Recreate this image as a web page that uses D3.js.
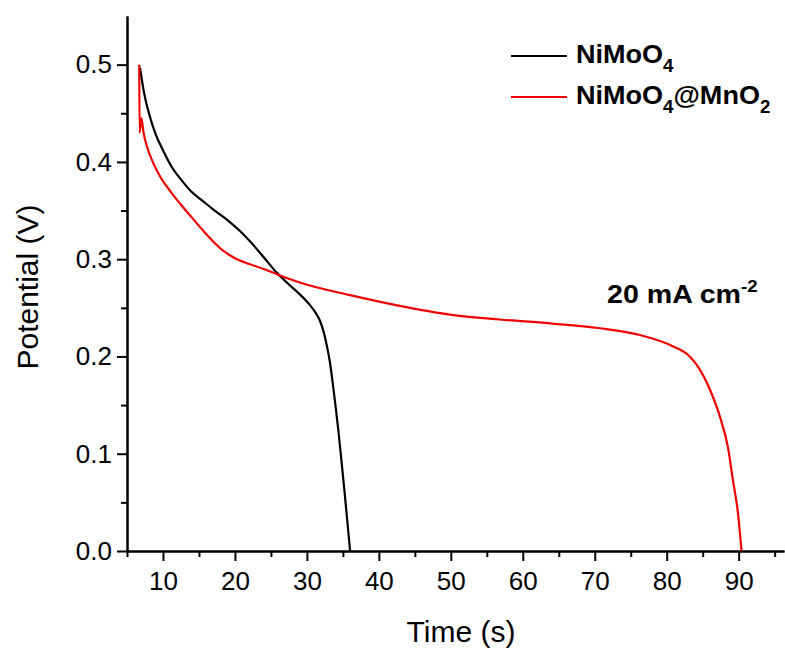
<!DOCTYPE html>
<html><head><meta charset="utf-8">
<script src="https://cdn.jsdelivr.net/npm/d3@7"></script>
<style>body{margin:0;background:#fff}svg{display:block}</style>
</head><body>
<svg id="chart" width="785" height="650"></svg>
<script>
// ---- data ----
const blackTime = [6.8, 7.4, 8.2, 9.0, 10.0, 11.2, 12.6, 14.0, 15.5, 17.0, 19.0, 20.7, 22.5, 24.0, 25.7, 27.5, 29.0, 30.4, 31.2, 31.8, 32.3, 32.8, 33.2, 33.6, 34.0, 34.4, 34.8, 35.2, 35.6, 36.0];
const blackPotential = [0.497, 0.470, 0.446, 0.428, 0.412, 0.395, 0.381, 0.369, 0.360, 0.351, 0.340, 0.329, 0.315, 0.302, 0.287, 0.274, 0.264, 0.253, 0.245, 0.237, 0.226, 0.210, 0.194, 0.172, 0.148, 0.122, 0.093, 0.063, 0.032, 0.000];
const redTime = [6.70, 6.75, 7.0, 7.3, 7.9, 8.7, 9.6, 11.0, 12.5, 14.0, 15.5, 17.0, 18.5, 20.0, 22.0, 24.0, 26.0, 29.0, 36.0, 42.9, 49.9, 56.8, 63.8, 70.7, 76.3, 80.4, 83.2, 84.2, 86.0, 87.4, 88.5, 89.2, 89.9, 90.4];
const redPotential = [0.500, 0.430, 0.445, 0.430, 0.413, 0.398, 0.385, 0.370, 0.356, 0.343, 0.330, 0.318, 0.308, 0.301, 0.295, 0.290, 0.284, 0.276, 0.263, 0.252, 0.243, 0.238, 0.234, 0.229, 0.222, 0.212, 0.200, 0.191, 0.166, 0.138, 0.107, 0.073, 0.039, 0.000];
const xTicks = [10, 20, 30, 40, 50, 60, 70, 80, 90];
const xMinorTicks = [5, 15, 25, 35, 45, 55, 65, 75, 85, 95];
const yTicks = [0.0, 0.1, 0.2, 0.3, 0.4, 0.5];
const yMinorTicks = [0.05, 0.15, 0.25, 0.35, 0.45];
const seriesColors = ["#000000", "#f00000"];

// ---- chart ----
const svg = d3.select("#chart");
const font = "'Liberation Sans', Arial, sans-serif";
const x = d3.scaleLinear().domain([5, 96.3]).range([127, 784]);
const y = d3.scaleLinear().domain([0, 0.55]).range([551, 16]);

// minor ticks
const xMinor = d3.axisBottom(x).tickValues(xMinorTicks).tickSize(6).tickFormat("").tickSizeOuter(0);
const yMinor = d3.axisLeft(y).tickValues(yMinorTicks).tickSize(6).tickFormat("").tickSizeOuter(0);
svg.append("g").attr("transform", "translate(0,551)").call(xMinor);
svg.append("g").attr("transform", "translate(127,0)").call(yMinor);

const xAxis = d3.axisBottom(x).tickValues(xTicks).tickSize(10).tickSizeOuter(0).tickPadding(11).tickFormat(d3.format("d"));
const yAxis = d3.axisLeft(y).tickValues(yTicks).tickSize(10).tickSizeOuter(0).tickPadding(5).tickFormat(d3.format(".1f"));
svg.append("g").attr("transform", "translate(0,551)").call(xAxis);
svg.append("g").attr("transform", "translate(127,0)").call(yAxis);

svg.selectAll(".domain, .tick line").attr("stroke", "#000").attr("stroke-width", 2);
svg.selectAll(".tick text").attr("font-family", font).attr("font-size", 26).attr("fill", "#000");

// axis titles
svg.append("text").attr("x", 461).attr("y", 642).attr("text-anchor", "middle")
  .attr("font-family", font).attr("font-size", 30).text("Time (s)");
svg.append("text").attr("transform", "translate(38,287) rotate(-90)").attr("text-anchor", "middle")
  .attr("font-family", font).attr("font-size", 30).text("Potential (V)");

// lines
const line = d3.line().x(d => x(d[0])).y(d => y(d[1])).curve(d3.curveMonotoneX);
const blackData = blackTime.map((t, i) => [t, blackPotential[i]]);
const redData = redTime.map((t, i) => [t, redPotential[i]]);
svg.append("path").datum(blackData).attr("d", line).attr("fill", "none")
  .attr("stroke", seriesColors[0]).attr("stroke-width", 2.2);
svg.append("path").datum(redData).attr("d", line).attr("fill", "none")
  .attr("stroke", seriesColors[1]).attr("stroke-width", 2.2);

// legend
const leg = svg.append("g").attr("font-family", font).attr("font-weight", "bold").attr("font-size", 26);
[0, 1].forEach(i => {
  const ly = 56 + i * 41;
  leg.append("line").attr("x1", 511).attr("x2", 567).attr("y1", ly).attr("y2", ly)
    .attr("stroke", seriesColors[i]).attr("stroke-width", 2);
  const t = leg.append("text").attr("transform", `translate(576,${ly + 7}) scale(1.04,1)`);
  t.append("tspan").text("NiMoO");
  t.append("tspan").attr("font-size", 18).attr("dy", 9).text("4");
  if (i === 1) {
    t.append("tspan").attr("dy", -9).text("@MnO");
    t.append("tspan").attr("font-size", 18).attr("dy", 9).text("2");
  }
});

// annotation
const ann = svg.append("text").attr("transform", "translate(607,303) scale(1.1,1)").attr("font-family", font)
  .attr("font-weight", "bold").attr("font-size", 26);
ann.append("tspan").text("20 mA cm");
ann.append("tspan").attr("font-size", 17).attr("dy", -11).text("-2");
</script>
</body></html>
